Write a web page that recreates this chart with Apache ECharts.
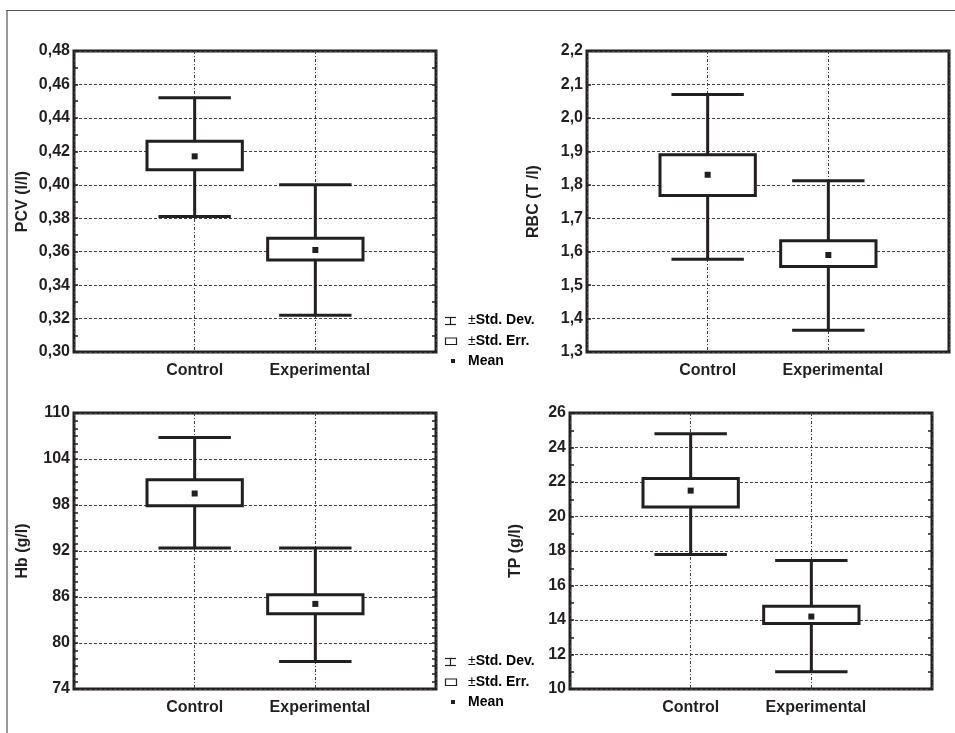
<!DOCTYPE html>
<html>
<head>
<meta charset="utf-8">
<script src="https://cdn.jsdelivr.net/npm/echarts@6/dist/echarts.min.js"></script>
<style>html,body{margin:0;padding:0;background:#fff}#c{width:955px;height:733px}</style>
</head>
<body>
<div id="c"></div>
<script>
// ---- data ----
const categories = ['Control', 'Experimental'];

const pcvRange = [0.30, 0.48, 0.02];
const pcvMean = [0.417, 0.361];
const pcvSeLow = [0.409, 0.355];
const pcvSeHigh = [0.426, 0.368];
const pcvSdLow = [0.381, 0.322];
const pcvSdHigh = [0.452, 0.400];

const rbcRange = [1.3, 2.2, 0.1];
const rbcMean = [1.83, 1.59];
const rbcSeLow = [1.768, 1.556];
const rbcSeHigh = [1.89, 1.633];
const rbcSdLow = [1.577, 1.365];
const rbcSdHigh = [2.07, 1.812];

const hbRange = [74, 110, 6];
const hbMean = [99.5, 85.1];
const hbSeLow = [97.9, 83.8];
const hbSeHigh = [101.3, 86.3];
const hbSdLow = [92.4, 77.6];
const hbSdHigh = [106.8, 92.4];

const tpRange = [10, 26, 2];
const tpMean = [21.5, 14.2];
const tpSeLow = [20.55, 13.8];
const tpSeHigh = [22.2, 14.8];
const tpSdLow = [17.8, 11.0];
const tpSdHigh = [24.8, 17.45];

const legendLabels = ['Std. Dev.', 'Std. Err.', 'Mean'];

// ---- chart ----
const FONT = "'Liberation Sans', Arial, Helvetica, sans-serif";
const INK = '#231f20';

const panels = [
  { name: 'PCV (l/l)', range: pcvRange, dec: 2, mean: pcvMean, seL: pcvSeLow, seH: pcvSeHigh, sdL: pcvSdLow, sdH: pcvSdHigh,
    grid: { left: 74, top: 51, width: 362, height: 301 }, gap: 43, minor: 2, right: true },
  { name: 'RBC (T /l)', range: rbcRange, dec: 1, mean: rbcMean, seL: rbcSeLow, seH: rbcSeHigh, sdL: rbcSdLow, sdH: rbcSdHigh,
    grid: { left: 587, top: 51, width: 362, height: 301 }, gap: 45, minor: 0, right: false },
  { name: 'Hb (g/l)', range: hbRange, dec: 0, mean: hbMean, seL: hbSeLow, seH: hbSeHigh, sdL: hbSdLow, sdH: hbSdHigh,
    grid: { left: 74, top: 413, width: 362, height: 276 }, gap: 43, minor: 6, right: true },
  { name: 'TP (g/l)', range: tpRange, dec: 0, mean: tpMean, seL: tpSeLow, seH: tpSeHigh, sdL: tpSdLow, sdH: tpSdHigh,
    grid: { left: 570, top: 413, width: 362, height: 276 }, gap: 46, minor: 2, right: true }
];

const grids = [], xAxes = [], yAxes = [], series = [];

function renderItem(params, api) {
  const x = api.value(0);
  const m = api.coord([x, api.value(1)]);
  const seL = api.coord([x, api.value(2)]);
  const seH = api.coord([x, api.value(3)]);
  const sdL = api.coord([x, api.value(4)]);
  const sdH = api.coord([x, api.value(5)]);
  const unit = api.size([1, 0])[0];
  const bw = unit * 0.79, cw = unit * 0.6;
  const st = { stroke: INK, lineWidth: 3, fill: null };
  return {
    type: 'group',
    children: [
      { type: 'line', shape: { x1: m[0], y1: sdH[1], x2: m[0], y2: sdL[1] }, style: st },
      { type: 'line', shape: { x1: m[0] - cw / 2, y1: sdH[1], x2: m[0] + cw / 2, y2: sdH[1] }, style: st },
      { type: 'line', shape: { x1: m[0] - cw / 2, y1: sdL[1], x2: m[0] + cw / 2, y2: sdL[1] }, style: st },
      { type: 'rect', shape: { x: m[0] - bw / 2, y: seH[1], width: bw, height: seL[1] - seH[1] },
        style: { stroke: INK, lineWidth: 3, fill: '#fff' } },
      { type: 'rect', shape: { x: m[0] - 3, y: m[1] - 3, width: 6, height: 6 }, style: { fill: INK } }
    ]
  };
}

panels.forEach((p, i) => {
  grids.push(Object.assign({ show: true, borderColor: INK, borderWidth: 3, backgroundColor: 'transparent' }, p.grid));
  xAxes.push({
    type: 'value', gridIndex: i, min: 0, max: 3, interval: 1,
    axisLine: { show: false }, axisTick: { show: false },
    splitLine: { show: true, lineStyle: { color: '#444', width: 1, type: [3, 2, 1, 2] } },
    axisLabel: {
      margin: 11,
      formatter: v => v === 1 ? '{c|' + categories[0] + '}' : (v === 2 ? '{e|' + categories[1] + '}' : ''),
      rich: {
        c: { fontFamily: FONT, fontWeight: 'bold', fontSize: 16, color: INK },
        e: { fontFamily: FONT, fontWeight: 'bold', fontSize: 16, color: INK, padding: [0, 0, 0, 9] }
      }
    }
  });
  const leftIdx = yAxes.length;
  yAxes.push({
    type: 'value', gridIndex: i, position: 'left', min: p.range[0], max: p.range[1], interval: p.range[2],
    name: p.name, nameLocation: 'middle', nameGap: p.gap,
    nameTextStyle: { fontFamily: FONT, fontWeight: 'bold', fontSize: 16, color: INK },
    axisLine: { show: false },
    axisTick: { show: true, inside: true, length: 4, lineStyle: { color: INK, width: 1.5 } },
    minorTick: { show: p.minor > 0, splitNumber: p.minor || 5, length: 4, lineStyle: { color: INK, width: 1.5 } },
    splitLine: { show: true, lineStyle: { color: '#444', width: 1, type: [3, 2] } },
    axisLabel: {
      margin: 4, fontFamily: FONT, fontWeight: 'bold', fontSize: 16, color: INK,
      formatter: v => Number(v).toFixed(p.dec).replace('.', ',')
    }
  });
  if (p.right) {
    yAxes.push({
      type: 'value', gridIndex: i, position: 'right', min: p.range[0], max: p.range[1], interval: p.range[2],
      axisLine: { show: false },
      axisTick: { show: true, inside: true, length: 4, lineStyle: { color: INK, width: 1.5 } },
      minorTick: { show: true, splitNumber: p.minor, length: 4, lineStyle: { color: INK, width: 1.5 } },
      splitLine: { show: false }, axisLabel: { show: false }
    });
  }
  series.push({
    type: 'custom', xAxisIndex: i, yAxisIndex: leftIdx, renderItem: renderItem,
    encode: { x: 0, y: [1, 2, 3, 4, 5] },
    data: categories.map((c, k) => [k + 1, p.mean[k], p.seL[k], p.seH[k], p.sdL[k], p.sdH[k]]),
    silent: true, animation: false
  });
});

const RICH = {
  a: { fontFamily: FONT, fontSize: 14, color: INK },
  b: { fontFamily: FONT, fontSize: 14, fontWeight: 'bold', color: INK }
};

function legendGroup(y0) {
  // y0: vertical centre of the first legend row
  return {
    type: 'group', x: 0, y: 0,
    children: [
      { type: 'rect', shape: { x: 445, y: y0 - 3.6, width: 11, height: 1.2 }, style: { fill: INK } },
      { type: 'rect', shape: { x: 445, y: y0 + 3.4, width: 11, height: 1.2 }, style: { fill: INK } },
      { type: 'rect', shape: { x: 449.9, y: y0 - 3.6, width: 1.2, height: 8.2 }, style: { fill: INK } },
      { type: 'rect', shape: { x: 445.5, y: y0 + 17.5, width: 11, height: 6.5 }, style: { stroke: INK, lineWidth: 1.2, fill: '#fff' } },
      { type: 'rect', shape: { x: 451, y: y0 + 38.5, width: 4, height: 4 }, style: { fill: INK } },
      { type: 'text', x: 468, y: y0, style: { text: '{a|±}{b|' + legendLabels[0] + '}', verticalAlign: 'middle', rich: RICH } },
      { type: 'text', x: 468, y: y0 + 20.5, style: { text: '{a|±}{b|' + legendLabels[1] + '}', verticalAlign: 'middle', rich: RICH } },
      { type: 'text', x: 468, y: y0 + 40.5, style: { text: '{b|' + legendLabels[2] + '}', verticalAlign: 'middle', rich: RICH } }
    ]
  };
}

const graphic = [
  { type: 'rect', shape: { x: 6.4, y: 9.9, width: 949, height: 1.2 }, style: { fill: '#555' } },
  { type: 'rect', shape: { x: 6.4, y: 9.9, width: 1.2, height: 724 }, style: { fill: '#555' } },
  legendGroup(320.5),
  legendGroup(661.5)
];

const chart = echarts.init(document.getElementById('c'), null, { renderer: 'canvas' });
chart.setOption({
  animation: false,
  backgroundColor: '#fff',
  grid: grids, xAxis: xAxes, yAxis: yAxes, series: series,
  graphic: graphic
});
</script>
</body>
</html>
